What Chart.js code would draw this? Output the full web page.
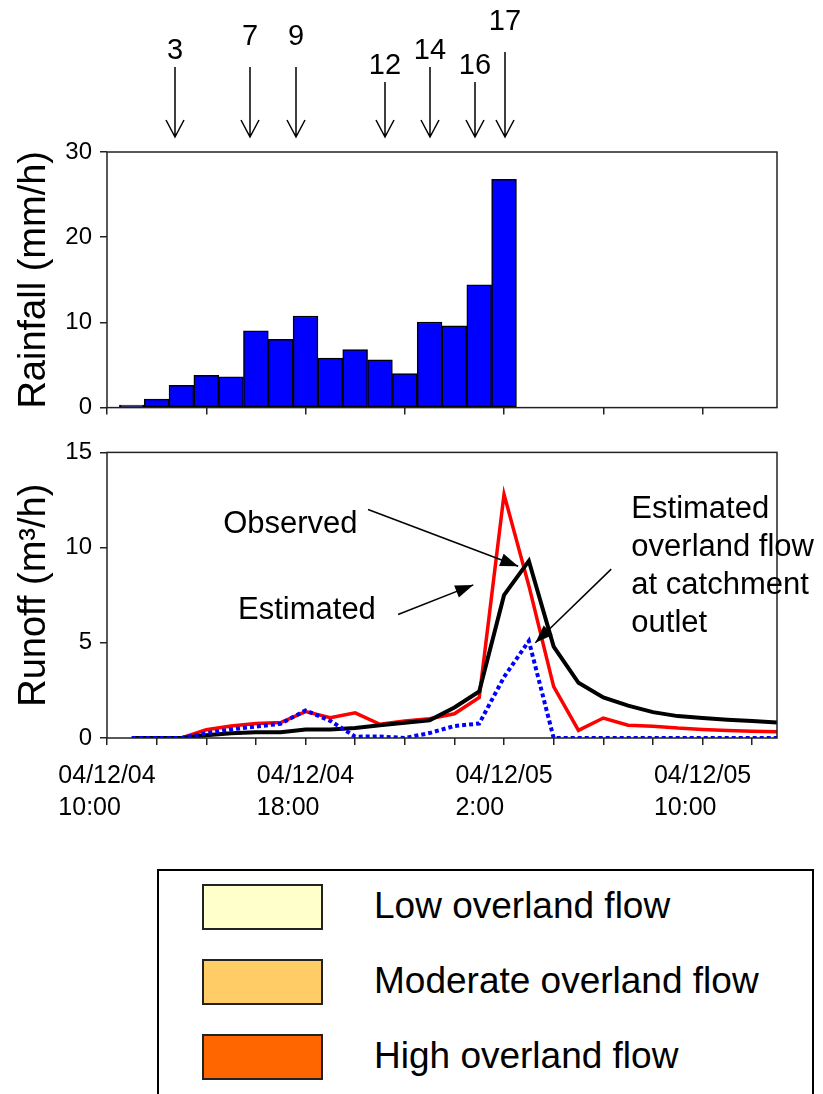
<!DOCTYPE html>
<html>
<head>
<meta charset="utf-8">
<script src="https://cdn.jsdelivr.net/npm/chart.js@4"></script>
<style>
  body { margin: 0; background: #fff; width: 823px; height: 1094px; overflow: hidden; position: relative; font-family: "Liberation Sans", Arial, sans-serif; }
  canvas { position: absolute; left: 0; }
  #legend { position: absolute; left: 157px; top: 869px; width: 657px; height: 240px; border: 2px solid #000; border-bottom: none; box-sizing: border-box; }
  .swatch { position: absolute; left: 202px; width: 121px; height: 46px; border: 2px solid #222; box-sizing: border-box; }
  .ltext { position: absolute; left: 374px; font-size: 37px; line-height: 44px; height: 46px; white-space: nowrap; color: #000; }
</style>
</head>
<body>
<canvas id="rain" width="823" height="430" style="top:0"></canvas>
<canvas id="runoff" width="823" height="420" style="top:430px"></canvas>
<div id="legend"></div>
<div class="swatch" style="top:884px;background:#FFFFCC"></div>
<div class="ltext" style="top:884px">Low overland flow</div>
<div class="swatch" style="top:959px;background:#FFCC66"></div>
<div class="ltext" style="top:959px">Moderate overland flow</div>
<div class="swatch" style="top:1034px;background:#FF6600"></div>
<div class="ltext" style="top:1034px">High overland flow</div>
<script>
// hours after 04/12/04 10:00
const rainHour = [1, 2, 3, 4, 5, 6, 7, 8, 9, 10, 11, 12, 13, 14, 15, 16];
const rainfall = [0.3, 1.0, 2.6, 3.8, 3.6, 9.0, 8.0, 10.75, 5.8, 6.8, 5.6, 4.0, 10.05, 9.6, 14.4, 26.8];

const runoffHour = [1, 2, 3, 4, 5, 6, 7, 8, 9, 10, 11, 12, 13, 14, 15, 16, 17, 18, 19, 20, 21, 22, 23, 24, 25, 26, 27];
const observed = [0, 0, 0, 0.15, 0.25, 0.3, 0.3, 0.45, 0.45, 0.53, 0.67, 0.8, 0.93, 1.6, 2.44, 7.5, 9.3, 4.8, 2.9, 2.13, 1.7, 1.36, 1.15, 1.05, 0.96, 0.89, 0.82];
const estimated = [0, 0, 0, 0.43, 0.63, 0.76, 0.81, 1.39, 1.07, 1.32, 0.72, 0.89, 1.01, 1.27, 2.13, 12.8, 8.0, 2.7, 0.4, 1.05, 0.67, 0.62, 0.52, 0.45, 0.4, 0.36, 0.33];
const overland = [0, 0, 0, 0.25, 0.45, 0.6, 0.75, 1.45, 0.9, 0.07, 0.08, 0, 0.26, 0.63, 0.76, 3.2, 5.1, 0, 0, 0, 0, 0, 0, 0, 0, 0, 0];

const tickHours = [0, 8, 16, 24];
const tickDates = ['04/12/04', '04/12/04', '04/12/05', '04/12/05'];
const tickTimes = ['10:00', '18:00', '2:00', '10:00'];

const eventLabels = ['3', '7', '9', '12', '14', '16', '17'];
const eventHours = [2.75, 5.75, 7.6, 11.2, 13.0, 14.85, 16.05];

const FONT = '"Liberation Sans", Arial, sans-serif';
const pts = (xs, ys) => xs.map((x, i) => ({ x: x, y: ys[i] }));

// frame round the plot area
const framePlugin = {
  id: 'frame',
  afterDraw(chart) {
    const a = chart.chartArea, ctx = chart.ctx;
    ctx.save();
    ctx.strokeStyle = '#222';
    ctx.lineWidth = 1.5;
    ctx.strokeRect(a.left, a.top, a.right - a.left, a.bottom - a.top);
    ctx.restore();
  }
};

function arrowHead(ctx, x0, y0, x1, y1, len, half) {
  const ang = Math.atan2(y1 - y0, x1 - x0);
  ctx.beginPath();
  ctx.moveTo(x1, y1);
  ctx.lineTo(x1 - len * Math.cos(ang) + half * Math.sin(ang), y1 - len * Math.sin(ang) - half * Math.cos(ang));
  ctx.lineTo(x1 - len * Math.cos(ang) - half * Math.sin(ang), y1 - len * Math.sin(ang) + half * Math.cos(ang));
  ctx.closePath();
  ctx.fill();
}

// numbered arrows above the rainfall plot
const labelY = [51, 37, 37, 66, 51, 66, 22];
const lineTop = [67, 67, 67, 82, 67, 82, 52];
const eventPlugin = {
  id: 'events',
  afterDraw(chart) {
    const ctx = chart.ctx, xs = chart.scales.x;
    const tip = chart.chartArea.top - 15;
    ctx.save();
    ctx.font = '29px ' + FONT;
    ctx.fillStyle = '#000';
    ctx.strokeStyle = '#000';
    ctx.lineWidth = 1.5;
    ctx.textAlign = 'center';
    ctx.textBaseline = 'middle';
    eventLabels.forEach((lab, i) => {
      const x = Math.round(xs.getPixelForValue(eventHours[i]));
      ctx.fillText(lab, x, labelY[i]);
      ctx.beginPath();
      ctx.moveTo(x, lineTop[i]);
      ctx.lineTo(x, tip);
      ctx.moveTo(x - 9, tip - 17);
      ctx.lineTo(x, tip);
      ctx.lineTo(x + 9, tip - 17);
      ctx.stroke();
    });
    ctx.restore();
  }
};

// text notes with arrows in the runoff plot (positions in hours / m3/h)
const notes = [
  { lines: ['Observed'], at: [4.68, 11.24], from: [10.52, 12.0], to: [16.57, 9.02] },
  { lines: ['Estimated'], at: [5.28, 6.7], from: [11.73, 6.49], to: [14.76, 8.04] },
  { lines: ['Estimated', 'overland flow', 'at catchment', 'outlet'], at: [21.13, 12.0], from: [20.32, 8.87], to: [17.26, 5.0] }
];
const notePlugin = {
  id: 'notes',
  afterDraw(chart) {
    const ctx = chart.ctx, xs = chart.scales.x, ys = chart.scales.y;
    ctx.save();
    ctx.font = '31px ' + FONT;
    ctx.fillStyle = '#000';
    ctx.strokeStyle = '#000';
    ctx.lineWidth = 1.5;
    ctx.textAlign = 'left';
    ctx.textBaseline = 'middle';
    notes.forEach(n => {
      const tx = xs.getPixelForValue(n.at[0]), ty = ys.getPixelForValue(n.at[1]);
      n.lines.forEach((s, i) => ctx.fillText(s, tx, ty + i * 38));
      const x0 = xs.getPixelForValue(n.from[0]), y0 = ys.getPixelForValue(n.from[1]);
      const x1 = xs.getPixelForValue(n.to[0]), y1 = ys.getPixelForValue(n.to[1]);
      ctx.beginPath();
      ctx.moveTo(x0, y0);
      ctx.lineTo(x1, y1);
      ctx.stroke();
      arrowHead(ctx, x0, y0, x1, y1, 18, 6.5);
    });
    ctx.restore();
  }
};

const measureCtx = document.createElement('canvas').getContext('2d');
measureCtx.font = '25px ' + FONT;
function padTo(s, w) {
  while (measureCtx.measureText(s + ' ').width <= w + 1) s += ' ';
  return s;
}

const yAxisBase = (max, step, title, titlePad) => ({
  min: 0,
  max: max,
  afterFit: axis => { axis.width = 107; },
  border: { display: false },
  grid: { drawOnChartArea: false, drawTicks: true, tickLength: 7, color: '#222', lineWidth: 1.5 },
  ticks: { stepSize: step, padding: 8, color: '#000', font: { family: FONT, size: 24 } },
  title: { display: true, text: title, color: '#000', font: { family: FONT, size: 38 }, padding: { top: titlePad, bottom: 0 } }
});

new Chart(document.getElementById('rain'), {
  type: 'bar',
  data: {
    datasets: [{
      label: 'Rainfall',
      data: pts(rainHour, rainfall),
      backgroundColor: '#0000FF',
      borderColor: '#000',
      borderWidth: 1.5,
      borderSkipped: false,
      barPercentage: 1,
      categoryPercentage: 1
    }]
  },
  options: {
    responsive: false,
    animation: false,
    layout: { padding: { top: 152, right: 46, left: 0, bottom: 0 } },
    plugins: { legend: { display: false }, tooltip: { enabled: false } },
    scales: {
      x: {
        type: 'linear',
        min: 0,
        max: 27,
        offset: false,
        afterFit: axis => { axis.height = 22; },
        border: { display: false },
        grid: { offset: false, drawOnChartArea: false, drawTicks: true, tickLength: 7, color: '#222', lineWidth: 1.5 },
        ticks: { stepSize: 4, includeBounds: false, autoSkip: false, callback: () => '' }
      },
      y: yAxisBase(30, 10, 'Rainfall (mm/h)', 12)
    }
  },
  plugins: [framePlugin, eventPlugin]
});

new Chart(document.getElementById('runoff'), {
  type: 'line',
  data: {
    datasets: [
      { label: 'Estimated overland flow', data: pts(runoffHour, overland), borderColor: '#0000FF', borderWidth: 4, borderDash: [4, 3], pointRadius: 0, tension: 0, order: 1 },
      { label: 'Observed', data: pts(runoffHour, observed), borderColor: '#000', borderWidth: 4, pointRadius: 0, tension: 0, order: 2 },
      { label: 'Estimated', data: pts(runoffHour, estimated), borderColor: '#FF0000', borderWidth: 3.5, pointRadius: 0, tension: 0, order: 3 }
    ]
  },
  options: {
    responsive: false,
    animation: false,
    layout: { padding: { top: 17, right: 46, left: 0, bottom: 0 } },
    plugins: { legend: { display: false }, tooltip: { enabled: false } },
    scales: {
      x: {
        type: 'linear',
        min: 0,
        max: 27,
        afterFit: axis => { axis.height = 112; },
        border: { display: false },
        grid: { drawOnChartArea: false, drawTicks: true, tickLength: 7, color: '#222', lineWidth: 1.5 },
        ticks: {
          stepSize: 2,
          includeBounds: false,
          autoSkip: false,
          maxRotation: 0,
          padding: 15,
          color: '#000',
          font: { family: FONT, size: 25, lineHeight: 1.28 },
          callback: value => {
            const i = tickHours.indexOf(value);
            if (i < 0) return '';
            const w = measureCtx.measureText(tickDates[i]).width;
            return [tickDates[i], padTo(tickTimes[i], w)];
          }
        }
      },
      y: yAxisBase(15, 5, 'Runoff (m³/h)', 12)
    }
  },
  plugins: [framePlugin, notePlugin]
});
</script>
</body>
</html>
